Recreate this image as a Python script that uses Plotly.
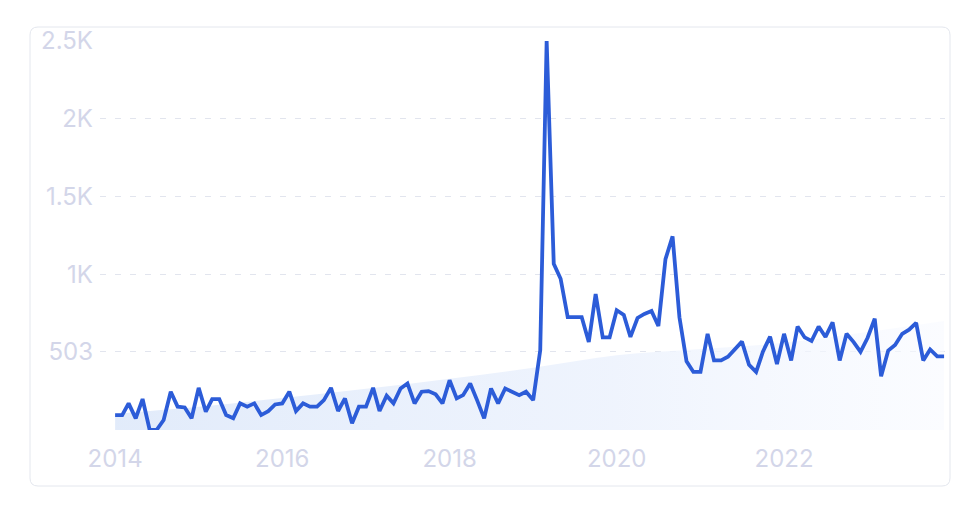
import plotly.graph_objects as go

# ---- data ----
start_year = 2014
months = [f"{start_year + i // 12}-{i % 12 + 1:02d}-01" for i in range(120)]

volume = [
    96, 96, 171, 75, 199, 0, 0, 64, 246, 150, 145, 75,
    271, 118, 199, 199, 96, 75, 171, 150, 171, 96, 121, 164,
    171, 246, 122, 171, 150, 150, 192, 271, 122, 203, 43, 150,
    150, 271, 122, 220, 171, 267, 299, 171, 246, 250, 229, 171,
    320, 203, 224, 299, 192, 75, 267, 171, 267, 246, 224, 246,
    192, 513, 2500, 1068, 972, 726, 726, 726, 566, 874, 595, 595,
    770, 740, 598, 720, 746, 765, 668, 1098, 1244, 725, 442, 373,
    373, 618, 447, 447, 471, 517, 568, 419, 373, 505, 600, 424,
    618, 447, 665, 595, 572, 665, 598, 692, 447, 618, 565, 502,
    593, 715, 345, 511, 546, 618, 645, 688, 447, 518, 473, 473,
]

trend_dates = ["2014-01-01", "2015-01-01", "2016-01-01", "2017-01-01", "2018-01-01",
               "2019-01-01", "2020-01-01", "2021-01-01", "2022-01-01", "2023-01-01",
               "2023-12-01"]
trend_vals = [105, 150, 205, 265, 330, 400, 480, 520, 560, 630, 700]

y_tickvals = [503, 1000, 1500, 2000, 2500]
y_ticktext = ["503", "1K", "1.5K", "2K", "2.5K"]
x_tickvals = ["2014-01-01", "2016-01-01", "2018-01-01", "2020-01-01", "2022-01-01"]
x_ticktext = ["2014", "2016", "2018", "2020", "2022"]

# ---- figure ----
fig = go.Figure()

fig.add_trace(go.Scatter(
    x=trend_dates, y=trend_vals, mode="lines", fill="tozeroy",
    line=dict(width=0, shape="spline", color="rgba(0,0,0,0)"),
    fillgradient=dict(type="horizontal",
                      colorscale=[[0, "rgba(224,234,250,0.95)"],
                                  [0.6, "rgba(236,242,253,0.85)"],
                                  [1, "rgba(248,250,255,0.6)"]]),
    hoverinfo="skip", showlegend=False,
))

fig.add_trace(go.Scatter(
    x=months, y=volume, mode="lines",
    line=dict(color="#2c5cd8", width=3.8),
    showlegend=False,
))

# card outline (pixels relative to the plot-area origin)
L, R, T, B, r = -70, 850, 403, -56, 8
card_path = (f"M {L+r},{B} L {R-r},{B} Q {R},{B} {R},{B+r} L {R},{T-r} Q {R},{T} {R-r},{T} "
             f"L {L+r},{T} Q {L},{T} {L},{T-r} L {L},{B+r} Q {L},{B} {L+r},{B} Z")
fig.add_shape(type="path", path=card_path, xref="paper", yref="paper",
              xsizemode="pixel", ysizemode="pixel", xanchor=0, yanchor=0,
              line=dict(color="#e4e7ee", width=1), fillcolor="rgba(0,0,0,0)",
              layer="below")

tick_font = dict(family="Inter, 'Open Sans', sans-serif", size=24, color="#d3d6e9")

# page body has an 8px margin, so the figure is offset by 8px
fig.update_layout(
    width=963, height=494,
    margin=dict(l=92, r=26, t=33, b=72),
    paper_bgcolor="white", plot_bgcolor="rgba(0,0,0,0)",
    xaxis=dict(
        range=["2013-10-27", "2023-12-05"],
        tickvals=x_tickvals, ticktext=x_ticktext,
        showgrid=False, zeroline=False, showline=False, ticks="",
        tickfont=tick_font, ticklabelstandoff=12,
    ),
    yaxis=dict(
        range=[0, 2500],
        tickvals=y_tickvals, ticktext=y_ticktext,
        showgrid=True, gridcolor="#e2e5ee", gridwidth=1, griddash="6px,9px",
        zeroline=False, showline=False, ticks="",
        tickfont=tick_font, ticklabelstandoff=6,
    ),
    hovermode=False,
)

fig.write_html("out.html")
